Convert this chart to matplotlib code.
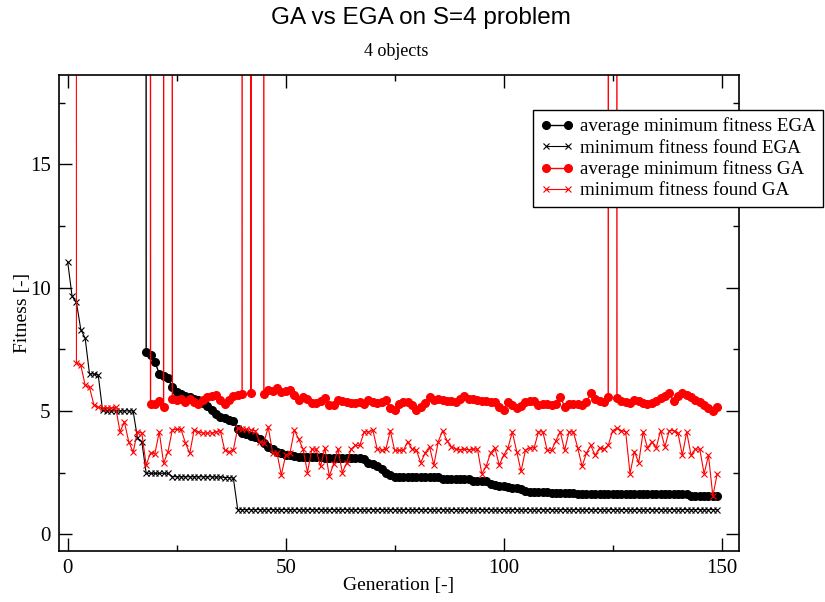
import matplotlib
matplotlib.use("Agg")
import matplotlib.pyplot as plt
from matplotlib.ticker import MultipleLocator

# value used by the run for "no feasible solution" (far above the plot)
BIG = 1000.0

generations = list(range(150))

avg_min_ega = [
    BIG, BIG, BIG, BIG, BIG, BIG, BIG, BIG, BIG, BIG,
    BIG, BIG, BIG, BIG, BIG, BIG, BIG, BIG, 7.4, 7.25,
    7.0, 6.5, 6.4, 6.32, 5.95, 5.75, 5.68, 5.62, 5.58, 5.5,
    5.45, 5.32, 5.18, 5.02, 4.88, 4.76, 4.7, 4.65, 4.58, 4.26,
    4.1, 4.05, 4.0, 3.95, 3.85, 3.7, 3.55, 3.45, 3.35, 3.28,
    3.22, 3.2, 3.16, 3.15, 3.15, 3.15, 3.15, 3.14, 3.12, 3.1,
    3.08, 3.08, 3.08, 3.08, 3.1, 3.1, 3.08, 3.08, 3.05, 2.9,
    2.85, 2.75, 2.65, 2.5, 2.42, 2.32, 2.32, 2.32, 2.32, 2.32,
    2.32, 2.32, 2.32, 2.32, 2.32, 2.32, 2.25, 2.25, 2.25, 2.25,
    2.25, 2.25, 2.25, 2.15, 2.15, 2.15, 2.15, 2.05, 2.0, 1.97,
    1.95, 1.9, 1.88, 1.86, 1.85, 1.75, 1.72, 1.72, 1.72, 1.72,
    1.72, 1.68, 1.68, 1.68, 1.68, 1.68, 1.68, 1.62, 1.62, 1.62,
    1.62, 1.62, 1.62, 1.62, 1.62, 1.62, 1.62, 1.62, 1.62, 1.62,
    1.62, 1.62, 1.62, 1.62, 1.62, 1.62, 1.62, 1.62, 1.62, 1.62,
    1.62, 1.62, 1.62, 1.53, 1.53, 1.53, 1.53, 1.53, 1.53, 1.53,
]

min_found_ega = [
    11.03, 9.65, 9.4, 8.3, 7.95, 6.5, 6.5, 6.45, 5.02, 5.0,
    5.0, 5.0, 5.0, 5.0, 5.0, 5.0, 3.9, 3.75, 2.47, 2.47,
    2.47, 2.47, 2.47, 2.47, 2.34, 2.33, 2.33, 2.33, 2.33, 2.33,
    2.33, 2.33, 2.33, 2.33, 2.32, 2.32, 2.3, 2.3, 2.28, 1.0,
    1.0, 1.0, 1.0, 1.0, 1.0, 1.0, 1.0, 1.0, 1.0, 1.0,
    1.0, 1.0, 1.0, 1.0, 1.0, 1.0, 1.0, 1.0, 1.0, 1.0,
    1.0, 1.0, 1.0, 1.0, 1.0, 1.0, 1.0, 1.0, 1.0, 1.0,
    1.0, 1.0, 1.0, 1.0, 1.0, 1.0, 1.0, 1.0, 1.0, 1.0,
    1.0, 1.0, 1.0, 1.0, 1.0, 1.0, 1.0, 1.0, 1.0, 1.0,
    1.0, 1.0, 1.0, 1.0, 1.0, 1.0, 1.0, 1.0, 1.0, 1.0,
    1.0, 1.0, 1.0, 1.0, 1.0, 1.0, 1.0, 1.0, 1.0, 1.0,
    1.0, 1.0, 1.0, 1.0, 1.0, 1.0, 1.0, 1.0, 1.0, 1.0,
    1.0, 1.0, 1.0, 1.0, 1.0, 1.0, 1.0, 1.0, 1.0, 1.0,
    1.0, 1.0, 1.0, 1.0, 1.0, 1.0, 1.0, 1.0, 1.0, 1.0,
    1.0, 1.0, 1.0, 1.0, 1.0, 1.0, 1.0, 1.0, 1.0, 1.0,
]

avg_min_ga = [
    BIG, BIG, BIG, BIG, BIG, BIG, BIG, BIG, BIG, BIG,
    BIG, BIG, BIG, BIG, BIG, BIG, BIG, BIG, BIG, 5.27,
    5.27, 5.4, 5.17, BIG, 5.5, 5.45, 5.5, 5.38, 5.5, 5.38,
    5.3, 5.44, 5.55, 5.6, 5.65, 5.45, 5.3, 5.45, 5.6, 5.65,
    5.7, BIG, 5.72, BIG, BIG, 5.7, 5.85, 5.8, 5.92, 5.78,
    5.8, 5.85, 5.65, 5.45, 5.58, 5.5, 5.31, 5.31, 5.4, 5.51,
    5.24, 5.26, 5.44, 5.4, 5.38, 5.31, 5.33, 5.35, 5.3, 5.44,
    5.35, 5.31, 5.35, 5.44, 5.1, 5.04, 5.3, 5.35, 5.38, 5.25,
    5.04, 5.15, 5.31, 5.55, 5.45, 5.5, 5.45, 5.4, 5.42, 5.38,
    5.5, 5.62, 5.5, 5.48, 5.45, 5.42, 5.4, 5.38, 5.35, 5.17,
    5.04, 5.38, 5.25, 5.12, 5.2, 5.35, 5.4, 5.42, 5.25, 5.3,
    5.28, 5.25, 5.3, 5.58, 5.17, 5.3, 5.3, 5.28, 5.24, 5.35,
    5.71, 5.5, 5.42, 5.38, 5.55, BIG, 5.52, 5.42, 5.38, 5.32,
    5.44, 5.4, 5.31, 5.3, 5.31, 5.42, 5.51, 5.6, 5.71, 5.4,
    5.6, 5.71, 5.65, 5.58, 5.45, 5.35, 5.25, 5.12, 4.98, 5.15,
]

min_found_ga = [
    BIG, BIG, 6.95, 6.85, 6.05, 5.95, 5.25, 5.15, 5.12, 5.12,
    5.12, 5.15, 4.15, 4.55, 3.75, 3.33, 4.15, 4.1, 2.8, 3.3,
    3.27, 4.15, 2.88, 3.35, 4.23, 4.25, 4.25, 3.7, 3.28, 4.23,
    4.15, 4.1, 4.1, 4.1, 4.15, 4.2, 3.42, 3.35, 3.42, 4.3,
    4.25, 4.25, 4.22, 4.2, 3.75, 3.7, 4.35, 3.3, 3.3, 2.4,
    3.2, 3.3, 4.22, 3.85, 3.45, 2.5, 3.45, 3.45, 2.75, 3.5,
    2.35, 2.85, 3.45, 2.5, 2.9, 3.45, 3.6, 3.6, 4.15, 4.15,
    4.22, 3.45, 3.4, 3.45, 4.2, 3.4, 3.4, 3.4, 3.75, 3.45,
    3.4, 2.9, 3.3, 3.55, 2.8, 3.75, 4.2, 3.8, 3.55, 3.45,
    3.42, 3.45, 3.42, 3.45, 3.45, 2.45, 2.75, 3.3, 3.5, 2.8,
    3.2, 3.5, 4.15, 3.35, 2.55, 3.4, 3.5, 3.5, 4.15, 4.15,
    3.4, 3.4, 3.8, 4.15, 3.4, 4.15, 4.15, 3.5, 2.75, 3.3,
    3.6, 3.2, 3.5, 3.45, 3.6, 4.2, 4.3, 4.2, 4.15, 2.45,
    3.35, 2.9, 4.15, 3.5, 3.75, 3.5, 4.2, 3.55, 4.2, 4.2,
    4.1, 3.2, 4.15, 3.2, 3.45, 3.45, 2.45, 3.2, 1.55, 2.45,
]

serif = "Liberation Serif"
sans = "Liberation Sans"

fig = plt.figure(figsize=(8.25, 6.02), dpi=100)
ax = fig.add_axes([59 / 825, 1 - 551 / 602, 680 / 825, 476 / 602])

ax.plot(generations, avg_min_ega, "-o", color="black", lw=1.0, ms=5.5,
        label="average minimum fitness EGA")
ax.plot(generations, min_found_ega, "-x", color="black", lw=0.8, ms=4, mew=0.8,
        label="minimum fitness found EGA")
ax.plot(generations, avg_min_ga, "-o", color="red", lw=1.0, ms=5.5,
        label="average minimum fitness GA")
ax.plot(generations, min_found_ga, "-x", color="red", lw=0.8, ms=4.5, mew=0.8,
        label="minimum fitness found GA")

ax.set_xlim(-2, 154)
ax.set_ylim(-0.68, 18.62)
ax.xaxis.set_major_locator(MultipleLocator(50))
ax.xaxis.set_minor_locator(MultipleLocator(25))
ax.yaxis.set_major_locator(MultipleLocator(5))
ax.yaxis.set_minor_locator(MultipleLocator(2.5))
ax.tick_params(which="both", direction="in", top=True, right=True, width=1)
ax.tick_params(which="major", length=9.5, labelsize=15, pad=6)
ax.tick_params(which="minor", length=4.5)
for lab in ax.get_xticklabels() + ax.get_yticklabels():
    lab.set_family(serif)
for sp in ax.spines.values():
    sp.set_linewidth(1.2)

ax.set_xlabel("Generation [-]", fontsize=14, family=serif, va="center")
ax.set_ylabel("Fitness [-]", fontsize=14, family=serif, va="center")
ax.xaxis.set_label_coords(0.5, -0.073)
ax.yaxis.set_label_coords(-0.054, 0.5)

fig.text(421 / 825, 1 - 18 / 602, "GA vs EGA on S=4 problem", ha="center", va="center",
         fontsize=17.5, family=sans)
fig.text(396 / 825, 1 - 52 / 602, "4 objects", ha="center", va="center",
         fontsize=13, family=serif)

leg = ax.legend(loc="upper left", bbox_to_anchor=(533 / 825, 1 - 110 / 602),
                bbox_transform=fig.transFigure, borderaxespad=0, numpoints=2,
                fancybox=False, framealpha=1, edgecolor="black",
                handlelength=1.75, handletextpad=0.3, labelspacing=0.2,
                borderpad=0.4, prop={"family": serif, "size": 13.7})
leg.get_frame().set_linewidth(1.0)

fig.savefig("out.png", dpi=100)
